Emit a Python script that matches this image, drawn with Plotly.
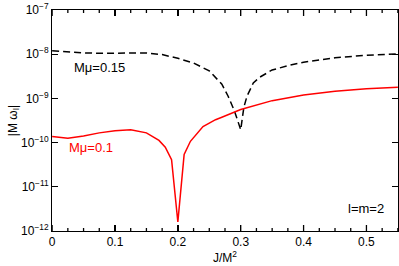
import math
import plotly.graph_objects as go

x_015 = [0, 0.025, 0.05, 0.075, 0.1, 0.125, 0.15, 0.175, 0.2, 0.225, 0.25, 0.27, 0.28, 0.29,
         0.3, 0.305, 0.31, 0.32, 0.33, 0.35, 0.375, 0.4, 0.45, 0.5, 0.55]
y_015 = [1.20e-8, 1.12e-8, 1.07e-8, 1.05e-8, 1.05e-8, 1.07e-8, 1.07e-8, 9.8e-9, 8.1e-9, 6.3e-9,
         4.2e-9, 2.1e-9, 1.12e-9, 5.2e-10, 1.95e-10, 6.3e-10, 1.12e-9, 2.24e-9, 3.0e-9, 4.4e-9,
         5.5e-9, 6.6e-9, 8.3e-9, 9.5e-9, 1.02e-8]

x_01 = [0, 0.025, 0.05, 0.075, 0.1, 0.125, 0.15, 0.17, 0.18, 0.19, 0.2, 0.21, 0.22, 0.23,
        0.24, 0.25, 0.26, 0.27, 0.3, 0.35, 0.4, 0.45, 0.5, 0.55]
y_01 = [1.38e-10, 1.26e-10, 1.41e-10, 1.66e-10, 1.86e-10, 1.95e-10, 1.66e-10, 1.12e-10,
        7.9e-11, 4.1e-11, 1.6e-12, 5.4e-11, 1.07e-10, 1.58e-10, 2.3e-10, 2.75e-10, 3.3e-10,
        3.75e-10, 5.6e-10, 8.9e-10, 1.2e-9, 1.45e-9, 1.66e-9, 1.78e-9]

x_major = [0, 0.1, 0.2, 0.3, 0.4, 0.5]
x_major_text = ["0", "0.1", "0.2", "0.3", "0.4", "0.5"]
x_minor = [0.025, 0.05, 0.075, 0.125, 0.15, 0.175, 0.225, 0.25, 0.275, 0.325, 0.35, 0.375,
           0.425, 0.45, 0.475, 0.525, 0.55]

y_major = [1e-12, 1e-11, 1e-10, 1e-9, 1e-8, 1e-7]
y_major_text = ["10<sup>−12</sup>", "10<sup>−11</sup>", "10<sup>−10</sup>",
                "10<sup>−9</sup>", "10<sup>−8</sup>", "10<sup>−7</sup>"]
y_minor = [m * 10.0 ** e for e in range(-12, -7) for m in range(2, 10)]

FONT = "Liberation Sans, Arial, sans-serif"
YR = [-12.0005, -6.9995]
XR = [-0.0002, 0.5502]

fig = go.Figure()
fig.add_trace(go.Scatter(x=x_015, y=y_015, mode="lines", hoverinfo="skip",
                         line=dict(color="black", width=1.5, dash="7px,4px")))
fig.add_trace(go.Scatter(x=x_01, y=y_01, mode="lines", hoverinfo="skip",
                         line=dict(color="#ff0000", width=1.5)))

fig.add_annotation(x=0.075, y=-8.3, xref="x", yref="y", text="Mμ=0.15", showarrow=False,
                   font=dict(family=FONT, size=13, color="black"))
fig.add_annotation(x=0.062, y=-10.12, xref="x", yref="y", text="Mμ=0.1", showarrow=False,
                   font=dict(family=FONT, size=13, color="#ff0000"))
fig.add_annotation(x=0.5, y=-11.5, xref="x", yref="y", text="l=m=2", showarrow=False,
                   font=dict(family=FONT, size=13, color="black"))

# tick marks on all four sides, placed from the tick lists
tick_line = dict(color="black", width=1.3)
for vals, ln in ((x_major, 6), (x_minor, 3)):
    for v in vals:
        fig.add_shape(type="line", xref="x", yref="paper", ysizemode="pixel", yanchor=0,
                      x0=v, x1=v, y0=0, y1=ln, line=tick_line, layer="above")
        fig.add_shape(type="line", xref="x", yref="paper", ysizemode="pixel", yanchor=1,
                      x0=v, x1=v, y0=0, y1=-ln, line=tick_line, layer="above")
for vals, ln in ((y_major, 6), (y_minor, 3)):
    for v in vals:
        lv = math.log10(v)
        fig.add_shape(type="line", xref="paper", yref="y", xsizemode="pixel", xanchor=0,
                      x0=0, x1=ln, y0=lv, y1=lv, line=tick_line, layer="above")
        fig.add_shape(type="line", xref="paper", yref="y", xsizemode="pixel", xanchor=1,
                      x0=0, x1=-ln, y0=lv, y1=lv, line=tick_line, layer="above")

common = dict(showgrid=False, zeroline=False, automargin=False, fixedrange=True)

fig.update_layout(
    width=399, height=266,
    margin=dict(l=52, r=1, t=10, b=35, autoexpand=False),
    paper_bgcolor="white", plot_bgcolor="white",
    showlegend=False, hovermode=False,
    font=dict(family=FONT, size=12, color="black"),
    xaxis=dict(
        range=XR, tickmode="array", tickvals=x_major, ticktext=x_major_text,
        ticks="inside", ticklen=6, tickcolor="black", tickwidth=1.3,
        showline=True, linecolor="black", linewidth=1, mirror="allticks",
        title=dict(text="J/M<sup>2</sup>", standoff=0, font=dict(size=12)),
        tickfont=dict(size=12), **common,
    ),
    yaxis=dict(
        type="log", range=YR, tickmode="array", tickvals=y_major, ticktext=y_major_text,
        ticks="inside", ticklen=6, tickcolor="black", tickwidth=1.3,
        showline=True, linecolor="black", linewidth=1, mirror="allticks",
        title=dict(text="|M ω<sub>I</sub>|", standoff=0, font=dict(size=12)),
        tickfont=dict(size=12), **common,
    ),
)

fig.write_html("out.html", config={"displayModeBar": False, "staticPlot": True},
               post_script="document.body.style.margin='0';")
